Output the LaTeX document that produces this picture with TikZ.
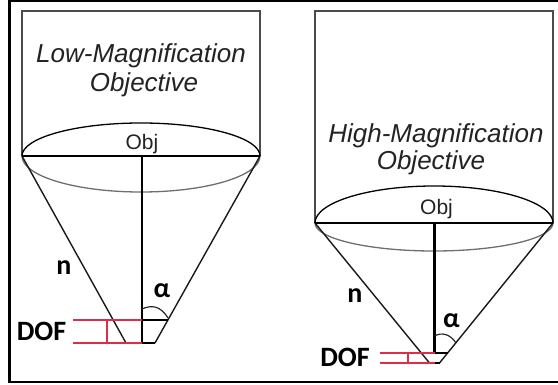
\documentclass[tikz,border=0pt]{standalone}
\usepackage{fontspec}
\setmainfont{Liberation Sans}
\newfontfamily\calib{Carlito}
\definecolor{dofred}{RGB}{222,45,75}
\definecolor{boxgray}{RGB}{75,75,75}
\definecolor{lensgray}{RGB}{110,110,110}
\definecolor{txt}{RGB}{35,35,35}
\begin{document}
\begin{tikzpicture}[x=1pt,y=-1pt,
  frame/.style={line width=2.2pt,black},
  boxline/.style={line width=1.6pt,boxgray},
  lenstop/.style={line width=1.3pt,black},
  lensbot/.style={line width=1.3pt,lensgray},
  axisline/.style={line width=2.3pt,black},
  coneline/.style={line width=1.4pt,black!90},
  trap/.style={line width=1.8pt,black},
  dofline/.style={line width=1.3pt,dofred},
  anglearc/.style={line width=1.2pt,black!85},
  title/.style={inner sep=0pt,anchor=base,text=txt,font=\fontsize{26}{30}\selectfont\itshape},
  objlbl/.style={inner sep=0pt,anchor=base,text=txt,font=\fontsize{21}{25}\selectfont},
  cal/.style={inner sep=0pt,anchor=center,text=black,font=\calib\bfseries\fontsize{28}{32}\selectfont}
]
\useasboundingbox (0,0) rectangle (558,385);
% outer frame
\draw[frame] (560,1.3) -- (9.5,1.3) -- (9.5,382) -- (560,382);

% ================= left objective =================
\coordinate (LA) at (22,156);
\coordinate (LB) at (260,156);
\coordinate (LC) at (142,156);
\coordinate (LBl) at (126,343);
\coordinate (LBr) at (155,343);
\coordinate (LTl) at (113.2,320);
\coordinate (LTr) at (167.9,320);
\coordinate (LVb) at (142,343);
\draw[boxline] (LA) -- (22,11) -- (260,11) -- (LB);
\draw[lenstop] (LA) arc[start angle=180,end angle=360,x radius=119,y radius=33];
\draw[lensbot] (LA) arc[start angle=180,end angle=0,x radius=119,y radius=36];
\draw[coneline] (LA) -- (LBl);
\draw[coneline] (LB) -- (LBr);
\draw[trap] (LTl) -- (LTr);
\draw[trap] (LBl) -- (LBr);
\draw[axisline] (LA) -- (LB);
\draw[axisline] (LC) -- (LVb);
\draw[anglearc] (142,309) .. controls (151,305) and (160,305) .. (168,318);
\coordinate (LR1) at (73,320);
\coordinate (LR2) at (73,343);
\draw[dofline] (LR1) -- (142,320);
\draw[dofline] (LR2) -- (142,343);
\draw[dofline] (107,320) -- (107,343);
\node[title] (lt1) at (141,63) {Low-Magnification};
\node[title] (lt2) at (144,91.5) {Objective};
\node[objlbl] (lobj) at (142,150) {Obj};
\node[cal] (ln) at (64,268) {n};
\node[cal] (la) at (162,290.5) {α};
\node[cal] (ldof) at (41.5,331.5) {DOF};

% ================= right objective =================
\coordinate (RA) at (315,223);
\coordinate (RB) at (553,223);
\coordinate (RC) at (434.5,223);
\coordinate (RBl) at (429.5,363);
\coordinate (RBr) at (439.5,363);
\coordinate (RTl) at (421.3,353);
\coordinate (RTr) at (447.6,353);
\coordinate (RVb) at (434.5,353);
\draw[boxline] (RA) -- (315,11) -- (553,11) -- (RB);
\draw[lenstop] (RA) arc[start angle=180,end angle=360,x radius=119,y radius=37];
\draw[lensbot] (RA) arc[start angle=180,end angle=0,x radius=119,y radius=28];
\draw[coneline] (RA) -- (RBl);
\draw[coneline] (RB) -- (RBr);
\draw[trap] (RTl) -- (RTr);
\draw[trap] (RBl) -- (RBr);
\draw[axisline] (RA) -- (RB);
\draw[axisline] (RC) -- (RVb);
\draw[anglearc] (434.5,336) .. controls (442,332) and (450,334) .. (456,343);
\coordinate (RR1) at (380,353);
\coordinate (RR2) at (380,363);
\draw[dofline] (RR1) -- (434.5,353);
\draw[dofline] (RR2) -- (434.5,363);
\draw[dofline] (408,353) -- (408,363);
\node[title] (rt1) at (436,143) {High-Magnification};
\node[title] (rt2) at (431,170) {Objective};
\node[objlbl] (robj) at (436.5,215) {Obj};
\node[cal] (rn) at (355,296) {n};
\node[cal] (ra) at (451.5,321) {α};
\node[cal] (rdof) at (345,357.5) {DOF};
\end{tikzpicture}
\end{document}
